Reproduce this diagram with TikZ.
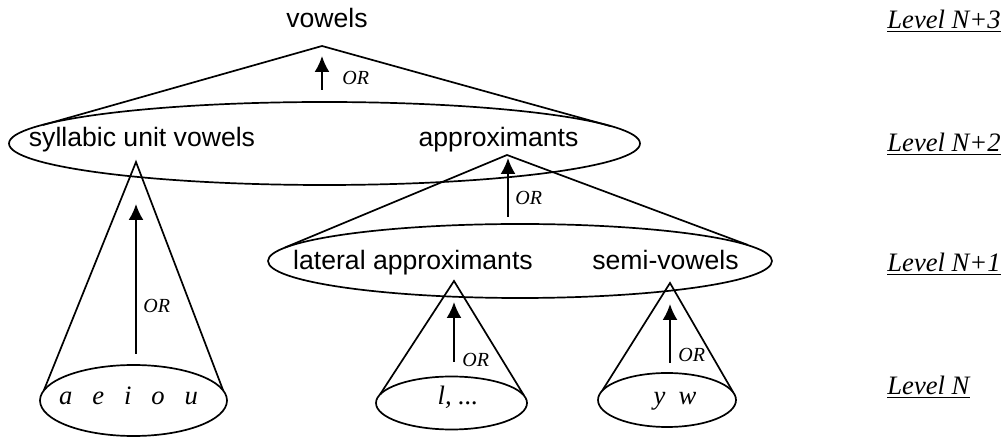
\documentclass[tikz,border=0pt]{standalone}
\usepackage{fontspec}
\setmainfont{Liberation Serif}
\newfontfamily\arialfont{Liberation Sans}
\usetikzlibrary{shapes.geometric,arrows.meta}
\begin{document}
\begin{tikzpicture}[x=0.5pt,y=-0.5pt,
  shapeline/.style={line width=0.85pt,line join=miter},
  oval/.style={draw,ellipse,line width=0.85pt,inner sep=0pt,outer sep=0pt},
  cat/.style={font=\arialfont\fontsize{13.3}{16}\selectfont,inner sep=0pt,anchor=base},
  seg/.style={font=\itshape\fontsize{13.3}{16}\selectfont,inner sep=0pt,anchor=base},
  ortag/.style={font=\itshape\fontsize{10}{12}\selectfont,inner sep=0pt,anchor=base west},
  lvl/.style={font=\itshape\fontsize{13.3}{16}\selectfont,inner sep=0pt,anchor=base west},
  uline/.style={line width=0.9pt},
  uparrow/.style={line width=1pt,-{Latex[length=8pt,width=7.5pt]}}]
\useasboundingbox (0,0) rectangle (1005,437);

% ellipses
\node[oval,minimum width=315.5pt,minimum height=41.5pt] (E1) at (324.5,143.5) {};
\node[oval,minimum width=252pt,minimum height=37pt] (E2) at (520,261) {};
\node[oval,minimum width=93.5pt,minimum height=35.5pt] (B1) at (133.5,400.5) {};
\node[oval,minimum width=75.5pt,minimum height=26.5pt] (B2) at (451.5,403) {};
\node[oval,minimum width=69pt,minimum height=27pt] (B3) at (667,400) {};

% triangles / cones
\coordinate (T1) at (322,46);  \coordinate (T1l) at (43,125);  \coordinate (T1r) at (610,126);
\coordinate (T2) at (507,155); \coordinate (T2l) at (285,247.5); \coordinate (T2r) at (748,245);
\coordinate (C1) at (136,162); \coordinate (C1l) at (44,390);  \coordinate (C1r) at (223,390);
\coordinate (C2) at (454,281); \coordinate (C2l) at (380,394.5); \coordinate (C2r) at (524,395.5);
\coordinate (C3) at (670,283); \coordinate (C3l) at (602,391); \coordinate (C3r) at (733,392);
\draw[shapeline] (T1l) -- (T1) -- (T1r);
\draw[shapeline] (T2l) -- (T2) -- (T2r);
\draw[shapeline] (C1l) -- (C1) -- (C1r);
\draw[shapeline] (C2l) -- (C2) -- (C2r);
\draw[shapeline] (C3l) -- (C3) -- (C3r);

% arrows
\coordinate (A1s) at (322,90);  \coordinate (A1e) at (322,56);
\coordinate (A2s) at (508,217); \coordinate (A2e) at (508,158);
\coordinate (A3s) at (136,354); \coordinate (A3e) at (136,204);
\coordinate (A4s) at (454,362); \coordinate (A4e) at (454,302);
\coordinate (A5s) at (670,363); \coordinate (A5e) at (670,304);
\draw[uparrow] (A1s) -- (A1e);
\draw[uparrow] (A2s) -- (A2e);
\draw[uparrow] (A3s) -- (A3e);
\draw[uparrow] (A4s) -- (A4e);
\draw[uparrow] (A5s) -- (A5e);

% OR tags
\node[ortag] (or1) at (342,85) {OR};
\node[ortag] (or2) at (515,205) {OR};
\node[ortag] (or3) at (143,313) {OR};
\node[ortag] (or4) at (462,367) {OR};
\node[ortag] (or5) at (678,362) {OR};

% category labels
\node[cat] (vow) at (327,28) {vowels};
\node[cat] (suv) at (142,147) {syllabic unit vowels};
\node[cat] (app) at (498.5,147) {approximants};
\node[cat] (lat) at (413,270) {lateral approximants};
\node[cat] (semi) at (665.5,270) {semi-vowels};
\node[seg] (aeiou) at (128.5,405) {a\ \ \ e\ \ \ i\ \ \ o\ \ \ u};
\node[seg] (lx) at (458,405) {l, ...};
\node[seg] (yw) at (675,405) {y\ \ w};

% level labels
\node[lvl] (L3) at (887,29) {Level N+3};
\node[lvl] (L2) at (887,152) {Level N+2};
\node[lvl] (L1) at (887,272) {Level N+1};
\node[lvl] (L0) at (887,395) {Level N};
\foreach \n in {L3,L2,L1,L0}
  \draw[uline] ([yshift=-1.3pt]\n.base west) -- ([yshift=-1.3pt]\n.base east);
\end{tikzpicture}
\end{document}
